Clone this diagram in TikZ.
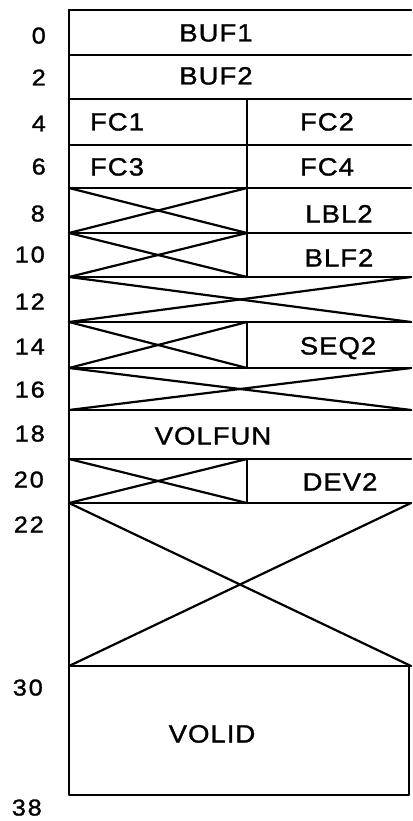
\documentclass[tikz,border=0pt]{standalone}
\usepackage{fontspec}
\setmainfont{Liberation Sans}[LetterSpace=4, FakeStretch=1.1, FakeBold=1.2]
\begin{document}
\begin{tikzpicture}[x=1pt,y=-1pt,
  frame/.style={line width=2.2pt, line cap=round, line join=round},
  cell/.style={inner sep=0pt, text height=17pt, text depth=0pt, font=\fontsize{25}{28}\selectfont},
  num/.style={inner sep=0pt, anchor=east, text height=15pt, text depth=0pt, font=\fontsize{23}{26}\selectfont\addfontfeatures{LetterSpace=8}}]
\useasboundingbox (0,0) rectangle (412,821);
\fill[white] (0,0) rectangle (412,821);
\def\L{69}\def\M{247}\def\R{411}
% outer frame
\draw[frame] (\L,10) -- (\R,10);
\draw[frame] (\L,10) -- (\L,795) -- (409,795) -- (409,666);
% horizontal rules
\foreach \y in {55,99,145,188,233,277,322,368,410,459,503,666}
  \draw[frame] (\L,\y) -- (\R,\y);
% middle dividers
\draw[frame] (\M,99) -- (\M,277);
\draw[frame] (\M,322) -- (\M,368);
\draw[frame] (\M,459) -- (\M,503);
% crossed (unused) areas, left half
\foreach \a/\b in {188/233,233/277,322/368,459/503}{
  \draw[frame] (\L,\a) -- (\M,\b);
  \draw[frame] (\L,\b) -- (\M,\a);
}
% crossed areas, full width
\foreach \a/\b in {277/322,368/410,503/666}{
  \draw[frame] (\L,\a) -- (\R,\b);
  \draw[frame] (\L,\b) -- (\R,\a);
}
% cell texts
\node[cell] (buf1) at (216,33) {BUF1};
\node[cell] (buf2) at (216,76) {BUF2};
\node[cell] (fc1) at (117,122) {FC1};
\node[cell] (fc2) at (327,122) {FC2};
\node[cell] (fc3) at (117,167) {FC3};
\node[cell] (fc4) at (327,167) {FC4};
\node[cell] (lbl2) at (339,214) {LBL2};
\node[cell] (blf2) at (339,258) {BLF2};
\node[cell] (seq2) at (338,346) {SEQ2};
\node[cell] (volfun) at (213,436) {VOLFUN};
\node[cell] (dev2) at (340,482) {DEV2};
\node[cell] (volid) at (212,734) {VOLID};
% offsets
\node[num] (n0) at (46,36) {0};
\node[num] (n2) at (46,78) {2};
\node[num] (n4) at (46,124) {4};
\node[num] (n6) at (46,167) {6};
\node[num] (n8) at (45,214) {8};
\node[num] (n10) at (45,255) {10};
\node[num] (n12) at (45,302) {12};
\node[num] (n14) at (45,347) {14};
\node[num] (n16) at (45,390) {16};
\node[num] (n18) at (45,434) {18};
\node[num] (n20) at (44,480) {20};
\node[num] (n22) at (44,525) {22};
\node[num] (n30) at (43,688) {30};
\node[num] (n38) at (42,808) {38};
\end{tikzpicture}
\end{document}
